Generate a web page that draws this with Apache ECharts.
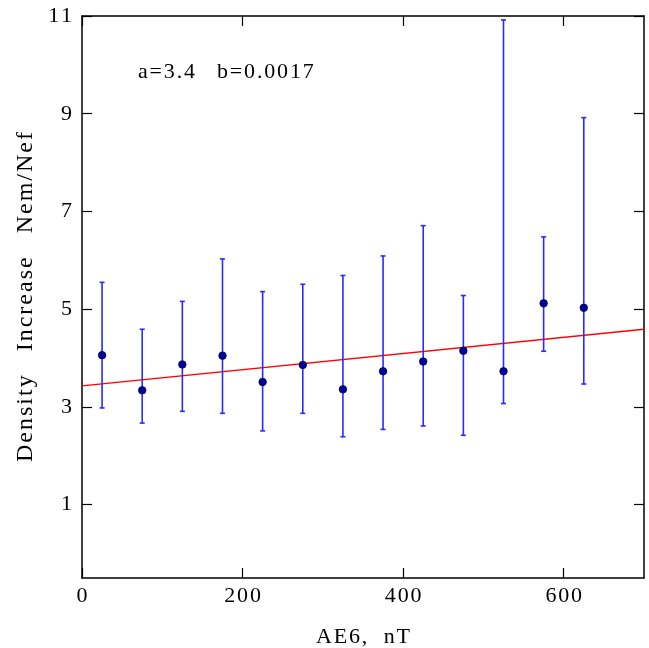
<!DOCTYPE html>
<html>
<head>
<meta charset="utf-8">
<script src="https://cdn.jsdelivr.net/npm/echarts@6/dist/echarts.min.js"></script>
<style>
html,body{margin:0;padding:0;background:#fff;}
#chart{width:649px;height:648px;}
</style>
</head>
<body>
<div id="chart"></div>
<script>
// AE6 bin centres (nT)
var aeValues = [25, 75, 125, 175, 225, 275, 325, 375, 425, 475, 525, 575, 625];
// Mean density ratio Nem/Nef
var ratioMean = [4.06, 3.34, 3.87, 4.05, 3.51, 3.86, 3.36, 3.73, 3.93, 4.15, 3.73, 5.12, 5.03];
// Error bar upper ends
var ratioHigh = [5.55, 4.59, 5.16, 6.03, 5.36, 5.51, 5.69, 6.09, 6.71, 5.28, 10.92, 6.48, 8.92];
// Error bar lower ends
var ratioLow = [2.98, 2.67, 2.91, 2.87, 2.51, 2.87, 2.39, 2.54, 2.61, 2.42, 3.07, 4.14, 3.47];
// Linear fit end points
var fitX = [0, 700];
var fitY = [3.43, 4.59];
var xTicks = [0, 200, 400, 600];
var yTicks = [1, 3, 5, 7, 9, 11];

var HS = '\u200A';
function spaced(s){ return String(s).split('').join(HS); }

var errData = aeValues.map(function(x, i){ return [x, ratioLow[i], ratioHigh[i]]; });
var ptData = aeValues.map(function(x, i){ return [x, ratioMean[i]]; });
var fitData = fitX.map(function(x, i){ return [x, fitY[i]]; });

var font = 'Liberation Serif';
var chart = echarts.init(document.getElementById('chart'));
var axisLineStyle = {color: '#000', width: 1.5};
var option = {
  animation: false,
  backgroundColor: '#fff',
  grid: {left: 82, top: 16, right: 5, bottom: 70, containLabel: false, outerBoundsMode: 'none'},
  xAxis: [{
    type: 'value', min: 0, max: 700, position: 'bottom',
    axisLine: {show: true, onZero: false, lineStyle: axisLineStyle},
    axisTick: {show: true, inside: true, length: 10, customValues: xTicks, lineStyle: {color: '#000', width: 1.2}},
    splitLine: {show: false},
    axisLabel: {fontFamily: font, fontSize: 22, color: '#000', margin: 7, customValues: xTicks, formatter: function(v){ return spaced(v); }},
    name: spaced('AE6,') + '   ' + spaced('nT'), nameLocation: 'middle', nameGap: 48,
    nameTextStyle: {fontFamily: font, fontSize: 22, color: '#000'}
  }, {
    type: 'value', min: 0, max: 700, position: 'top',
    axisLine: {show: true, onZero: false, lineStyle: axisLineStyle},
    axisTick: {show: true, inside: true, length: 10, customValues: xTicks, lineStyle: {color: '#000', width: 1.2}},
    splitLine: {show: false}, axisLabel: {show: false}
  }],
  yAxis: [{
    type: 'value', min: -0.5, max: 11, position: 'left',
    axisLine: {show: true, onZero: false, lineStyle: axisLineStyle},
    axisTick: {show: true, inside: true, length: 10, customValues: yTicks, lineStyle: {color: '#000', width: 1.2}},
    splitLine: {show: false},
    axisLabel: {fontFamily: font, fontSize: 22, color: '#000', margin: 10, customValues: yTicks, formatter: function(v){ return spaced(v); }},
    name: spaced('Density') + '    ' + spaced('Increase') + '    ' + spaced('Nem/Nef'),
    nameLocation: 'middle', nameGap: 38,
    nameTextStyle: {fontFamily: font, fontSize: 24, color: '#000'}
  }, {
    type: 'value', min: -0.5, max: 11, position: 'right',
    axisLine: {show: true, onZero: false, lineStyle: axisLineStyle},
    axisTick: {show: true, inside: true, length: 10, customValues: yTicks, lineStyle: {color: '#000', width: 1.2}},
    splitLine: {show: false}, axisLabel: {show: false}
  }],
  graphic: [{
    type: 'text', left: 138, top: 61,
    style: {text: spaced('a=3.4') + '    ' + spaced('b=0.0017'), font: '22px "Liberation Serif"', fill: '#000'}
  }],
  series: [{
    type: 'line', data: fitData, symbol: 'none', silent: true,
    lineStyle: {color: '#ff0000', width: 1.3}, z: 2
  }, {
    type: 'custom', data: errData, z: 3,
    renderItem: function(params, api){
      var x = api.value(0);
      var lo = api.coord([x, api.value(1)]);
      var hi = api.coord([x, api.value(2)]);
      var w = 2.5;
      var st = {stroke: '#2a2aff', lineWidth: 1.6};
      return {type: 'group', children: [
        {type: 'line', shape: {x1: lo[0], y1: lo[1], x2: hi[0], y2: hi[1]}, style: st},
        {type: 'line', shape: {x1: lo[0]-w, y1: lo[1], x2: lo[0]+w, y2: lo[1]}, style: st},
        {type: 'line', shape: {x1: hi[0]-w, y1: hi[1], x2: hi[0]+w, y2: hi[1]}, style: st}
      ]};
    }
  }, {
    type: 'scatter', data: ptData, symbol: 'circle', symbolSize: 7.5, z: 4,
    itemStyle: {color: '#0000a0', borderColor: '#000033', borderWidth: 0.8, opacity: 1}
  }]
};
chart.setOption(option);
</script>
</body>
</html>
